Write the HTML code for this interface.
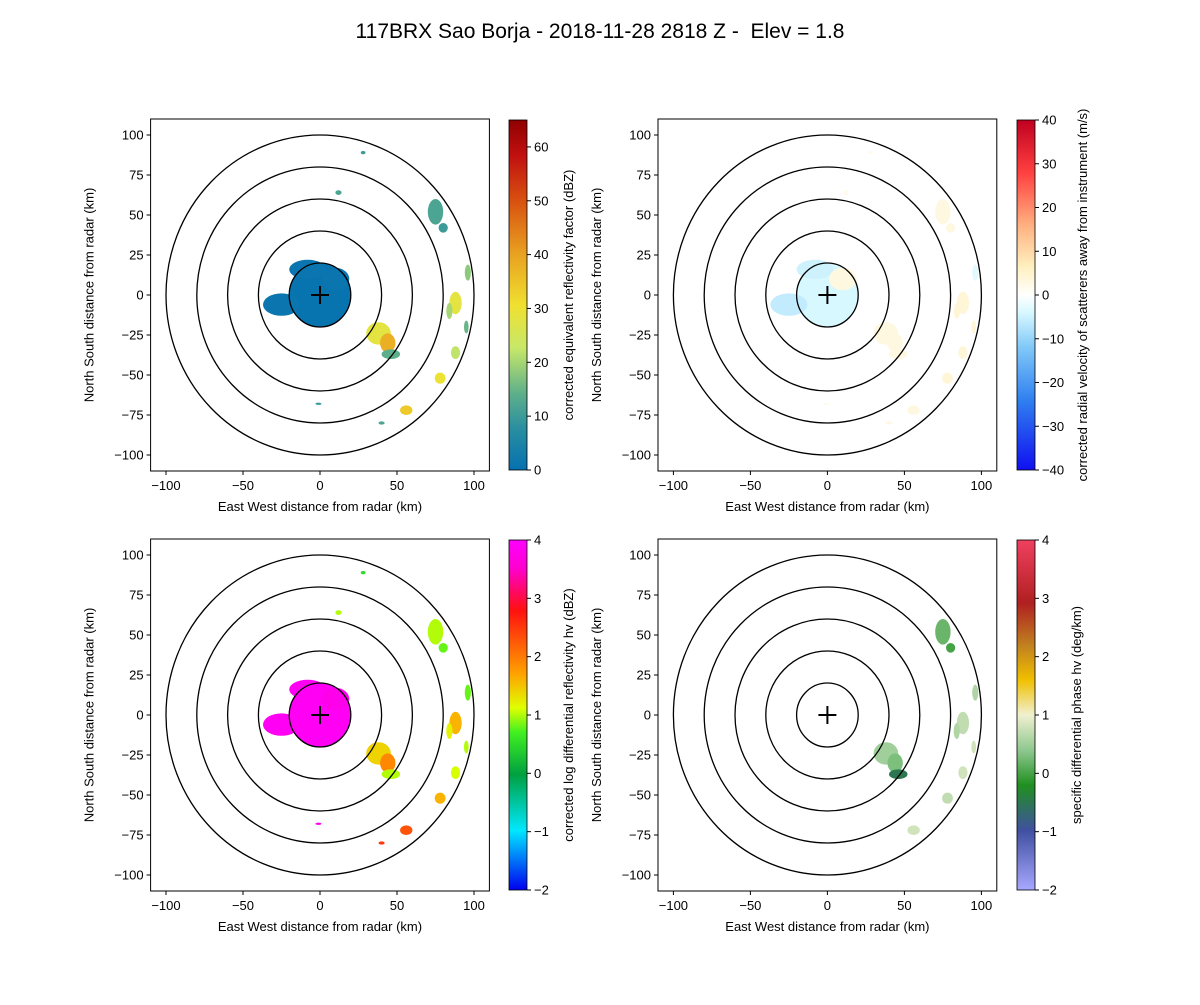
<!DOCTYPE html>
<html><head><meta charset="utf-8">
<style>
body{margin:0;background:#fff;}
svg text{font-family:"Liberation Sans",sans-serif;fill:#000;}
</style></head>
<body>
<svg id="fig" width="1200" height="1000" xmlns="http://www.w3.org/2000/svg">
<text x="600" y="38" font-size="21" text-anchor="middle">117BRX Sao Borja - 2018-11-28 2818 Z -&#160; Elev = 1.8</text>
</svg>
<script>
// ---- data ----
const rangeRings = [20, 40, 60, 80, 100];
const axisTicks = [-100, -75, -50, -25, 0, 25, 50, 75, 100];
const xTicks = [-100, -50, 0, 50, 100];
// echo cells: centre x (km), centre y (km), radius x (km), radius y (km)
const echoX  = [0, -25, -8, 10, 75, 80, 88, 38, 44, 46, 88, 78, 56, 40, 12, 96, 28, -1, 95, 84];
const echoY  = [0, -6, 16, 10, 52, 42, -5, -24, -30, -37, -36, -52, -72, -80, 64, 14, 89, -68, -20, -10];
const echoRX = [20, 12, 12, 9, 5, 3, 4, 8, 5, 6, 3, 3.5, 4, 2, 2, 2, 1.5, 2, 1.5, 2];
const echoRY = [20, 7, 6, 7, 8, 3, 7, 7, 6, 3, 4, 3.5, 3, 1, 1.5, 5, 1, 0.7, 4, 5];
// field values per echo
const reflValues = [0.5, 1, 1, 1, 12, 10, 28, 28, 38, 14, 22, 30, 34, 12, 12, 18, 10, 10, 15, 20];
const velValues  = [-4, -6, -5, 3, 3, 3, 4, 3, 3, 3, 4, 4, 3, 3, 2, -3, 2, 2, 4, 4];
const zdrValues  = [3.9, 3.9, 3.9, 3.8, 1.0, 0.8, 1.6, 1.4, 1.9, 1.0, 1.1, 1.6, 2.3, 2.5, 1.0, 0.8, 0.5, 3.9, 1.0, 1.2];
const kdpValues  = [null, null, null, null, 0.2, 0.0, 0.7, 0.5, 0.3, -0.5, 0.8, 0.7, 0.8, null, null, 0.6, null, null, 0.8, 0.6];

const panels = [
 {name:'reflectivity', ax:[150.6,119], cbx:509, lo:46, vals:reflValues, vmin:0, vmax:65, ticks:[0,10,20,30,40,50,60],
  label:'corrected equivalent reflectivity factor (dBZ)',
  stops:[[0,'#0571b0'],[0.12,'#2a8fa0'],[0.22,'#5fb08a'],[0.35,'#c8e868'],[0.47,'#f0e030'],[0.62,'#e8a020'],[0.77,'#d85010'],[0.9,'#c01010'],[1,'#900000']]},
 {name:'velocity', ax:[658,119], cbx:1017, lo:52, vals:velValues, vmin:-40, vmax:40, ticks:[-40,-30,-20,-10,0,10,20,30,40],
  label:'corrected radial velocity of scatterers away from instrument (m/s)',
  stops:[[0,'#1010f0'],[0.2,'#3080f0'],[0.35,'#80c8f8'],[0.45,'#d8f8ff'],[0.5,'#ffffff'],[0.58,'#fff0c0'],[0.7,'#ffb080'],[0.85,'#ff4040'],[1,'#c00020']]},
 {name:'zdr', ax:[150.6,539], cbx:509, lo:46, vals:zdrValues, vmin:-2, vmax:4, ticks:[-2,-1,0,1,2,3,4],
  label:'corrected log differential reflectivity hv (dBZ)',
  stops:[[0,'#0000f0'],[0.17,'#00e8ff'],[0.33,'#00a040'],[0.45,'#40f020'],[0.52,'#e0ff00'],[0.62,'#ffa000'],[0.8,'#ff1010'],[0.92,'#ff00d0'],[1,'#ff00ff']]},
 {name:'kdp', ax:[658,539], cbx:1017, lo:46, vals:kdpValues, vmin:-2, vmax:4, ticks:[-2,-1,0,1,2,3,4],
  label:'specific differential phase hv (deg/km)',
  stops:[[0,'#a8a8ff'],[0.17,'#4050a0'],[0.3,'#209020'],[0.4,'#90c890'],[0.5,'#f0f0d0'],[0.6,'#f0c000'],[0.7,'#c08020'],[0.82,'#b02020'],[1,'#f04060']]}
];

const NS='http://www.w3.org/2000/svg';
const svg=document.getElementById('fig');
function mk(tag,attrs,parent){const e=document.createElementNS(NS,tag);for(const k in attrs)e.setAttribute(k,attrs[k]);(parent||svg).appendChild(e);return e;}
function hex(c){return [parseInt(c.slice(1,3),16),parseInt(c.slice(3,5),16),parseInt(c.slice(5,7),16)];}
function cmap(stops,t){t=Math.max(0,Math.min(1,t));for(let i=1;i<stops.length;i++){if(t<=stops[i][0]){const a=stops[i-1],b=stops[i];const f=(t-a[0])/(b[0]-a[0]||1);const ca=hex(a[1]),cb=hex(b[1]);return 'rgb('+ca.map((v,j)=>Math.round(v+(cb[j]-v)*f)).join(',')+')';}}return stops[stops.length-1][1];}

const W=338.8,H=352,KM=110;
panels.forEach((p,pi)=>{
  const g=mk('g',{});
  
  
  const x0=p.ax[0],y0=p.ax[1];
  const sx=v=>x0+(v+KM)/(2*KM)*W;
  const sy=v=>y0+(KM-v)/(2*KM)*H;
  const clip=mk('clipPath',{id:'clip'+pi},g);
  mk('rect',{x:x0,y:y0,width:W,height:H},clip);
  const data=mk('g',{'clip-path':'url(#clip'+pi+')'},g);
  for(let i=0;i<echoX.length;i++){
    const v=p.vals[i]; if(v===null) continue;
    const e=mk('ellipse',{cx:sx(echoX[i]),cy:sy(echoY[i]),rx:echoRX[i]*W/(2*KM),ry:echoRY[i]*H/(2*KM),fill:cmap(p.stops,(v-p.vmin)/(p.vmax-p.vmin))},data);
    
    
  }
  rangeRings.forEach(r=>{
    const c=mk('ellipse',{cx:sx(0),cy:sy(0),rx:r*W/(2*KM),ry:r*H/(2*KM),fill:'none',stroke:'#000','stroke-width':1.3},data);
    
    
  });
  mk('path',{d:`M${sx(0)-9},${sy(0)}h18M${sx(0)},${sy(0)-9}v18`,stroke:'#000','stroke-width':2},data);
  const fr=mk('rect',{x:x0,y:y0,width:W,height:H,fill:'none',stroke:'#000','stroke-width':1},g);
  
  
  xTicks.forEach(t=>{const x=sx(t);mk('line',{x1:x,x2:x,y1:y0+H,y2:y0+H+4,stroke:'#000'},g);
    const tx=mk('text',{x:x,y:y0+H+19,'font-size':13,'text-anchor':'middle'},g);tx.textContent=t<0?'\u2212'+(-t):t;
    });
  axisTicks.forEach(t=>{const y=sy(t);mk('line',{x1:x0-4,x2:x0,y1:y,y2:y,stroke:'#000'},g);
    const tx=mk('text',{x:x0-7,y:y+4.5,'font-size':13,'text-anchor':'end'},g);tx.textContent=t<0?'\u2212'+(-t):t;
    });
  const xl=mk('text',{x:x0+W/2,y:y0+H+40,'font-size':13,'text-anchor':'middle'},g);xl.textContent='East West distance from radar (km)';
  
  const yl=mk('text',{x:0,y:0,'font-size':13,'text-anchor':'middle',transform:`translate(${x0-57},${y0+H/2}) rotate(-90)`},g);yl.textContent='North South distance from radar (km)';
  
  const cb=mk('g',{},g);
  
  
  const cw=18,cy0=y0+1,ch=350;
  const gid='grad'+pi;
  const gr=mk('linearGradient',{id:gid,x1:0,y1:1,x2:0,y2:0},cb);
  p.stops.forEach(s=>mk('stop',{offset:s[0],'stop-color':s[1]},gr));
  mk('rect',{x:p.cbx,y:cy0,width:cw,height:ch,fill:'url(#'+gid+')',stroke:'#000','stroke-width':0.8},cb);
  p.ticks.forEach(t=>{const y=cy0+ch-(t-p.vmin)/(p.vmax-p.vmin)*ch;
    mk('line',{x1:p.cbx+cw,x2:p.cbx+cw+4,y1:y,y2:y,stroke:'#000'},cb);
    const tx=mk('text',{x:p.cbx+cw+7,y:y+4.5,'font-size':13},cb);tx.textContent=t<0?'\u2212'+(-t):t;
    });
  const cl=mk('text',{x:0,y:0,'font-size':13,'text-anchor':'middle',transform:`translate(${p.cbx+cw+p.lo},${cy0+ch/2}) rotate(-90)`},cb);cl.textContent=p.label;
  
});
</script>
</body></html>
